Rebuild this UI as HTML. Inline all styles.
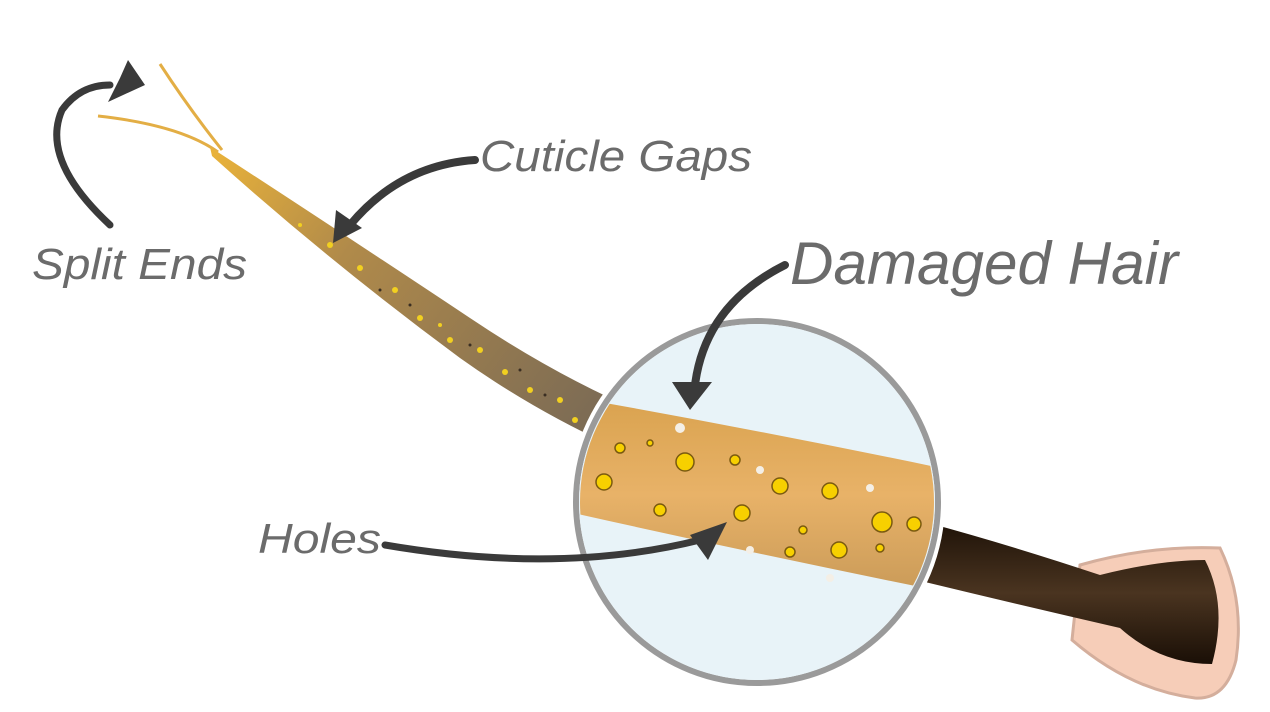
<!DOCTYPE html>
<html><head><meta charset="utf-8"><style>
html,body{margin:0;padding:0;background:#fff;width:1270px;height:712px;overflow:hidden}
text{font-family:"Liberation Sans",sans-serif;font-style:italic;fill:#6b6b6b}
</style></head><body>
<svg width="1270" height="712" viewBox="0 0 1270 712" xmlns="http://www.w3.org/2000/svg">
<defs>
<linearGradient id="strand" x1="215" y1="150" x2="600" y2="430" gradientUnits="userSpaceOnUse">
<stop offset="0" stop-color="#e9b23a"/><stop offset="0.35" stop-color="#b08a4a"/><stop offset="1" stop-color="#7a6a55"/>
</linearGradient>
<linearGradient id="band" x1="0" y1="0" x2="0" y2="1">
<stop offset="0" stop-color="#d9a24e"/><stop offset="0.5" stop-color="#e8b268"/><stop offset="1" stop-color="#c99a58"/>
</linearGradient>
<linearGradient id="dark" x1="0" y1="0" x2="0" y2="1">
<stop offset="0" stop-color="#1e1208"/><stop offset="0.5" stop-color="#4a3420"/><stop offset="1" stop-color="#1a0f06"/>
</linearGradient>
<clipPath id="cc"><circle cx="757" cy="502" r="177"/></clipPath>
</defs>

<!-- split ends -->
<path d="M218 152 Q180 125 98 116" stroke="#e3ae45" stroke-width="3" fill="none"/>
<path d="M222 150 Q190 110 160 64" stroke="#e3ae45" stroke-width="3" fill="none"/>
<!-- strand -->
<path d="M210 147 Q330 225 470 318 Q540 365 610 398 L610 445 Q530 408 460 358 Q330 262 212 156 Z" fill="url(#strand)"/>
<g fill="#f2d020">
<circle cx="330" cy="245" r="3"/><circle cx="360" cy="268" r="3"/><circle cx="395" cy="290" r="3"/><circle cx="420" cy="318" r="3"/><circle cx="450" cy="340" r="3"/><circle cx="480" cy="350" r="3"/><circle cx="505" cy="372" r="3"/><circle cx="530" cy="390" r="3"/><circle cx="560" cy="400" r="3"/><circle cx="575" cy="420" r="3"/><circle cx="300" cy="225" r="2"/><circle cx="440" cy="325" r="2"/>
</g>
<g fill="#3a2e22">
<circle cx="380" cy="290" r="1.5"/><circle cx="410" cy="305" r="1.5"/><circle cx="470" cy="345" r="1.5"/><circle cx="520" cy="370" r="1.5"/><circle cx="545" cy="395" r="1.5"/>
</g>

<!-- bulb and dark hair -->
<path d="M1080 565 Q1150 545 1220 548 Q1245 600 1236 660 Q1226 700 1195 698 Q1130 690 1072 640 Z" fill="#f6cdb8" stroke="#d4ae9c" stroke-width="3"/>
<path d="M925 522 Q1010 545 1100 575 Q1160 560 1205 560 Q1228 605 1212 664 Q1160 664 1120 628 Q1020 605 925 582 Z" fill="url(#dark)"/>

<!-- magnifier -->
<circle cx="757" cy="502" r="188" fill="#ffffff"/>
<circle cx="757" cy="502" r="181" fill="none" stroke="#9a9a9a" stroke-width="6"/>
<circle cx="757" cy="502" r="178" fill="#e8f3f8"/>
<g clip-path="url(#cc)">
<path d="M560 395 Q760 430 960 472 L960 595 Q760 555 560 510 Z" fill="url(#band)"/>
<g fill="#f7d000" stroke="#7a5a10" stroke-width="1.5">
<circle cx="604" cy="482" r="8"/><circle cx="685" cy="462" r="9"/><circle cx="735" cy="460" r="5"/><circle cx="780" cy="486" r="8"/><circle cx="830" cy="491" r="8"/><circle cx="882" cy="522" r="10"/><circle cx="914" cy="524" r="7"/><circle cx="742" cy="513" r="8"/><circle cx="839" cy="550" r="8"/><circle cx="660" cy="510" r="6"/><circle cx="790" cy="552" r="5"/><circle cx="620" cy="448" r="5"/><circle cx="803" cy="530" r="4"/><circle cx="650" cy="443" r="3"/><circle cx="880" cy="548" r="4"/>
</g>
<g fill="#f4efe6">
<circle cx="680" cy="428" r="5"/><circle cx="760" cy="470" r="4"/><circle cx="870" cy="488" r="4"/><circle cx="750" cy="550" r="4"/><circle cx="830" cy="578" r="4"/>
</g>
</g>

<!-- arrows -->
<g fill="none" stroke="#3a3a3a" stroke-linecap="round">
<path d="M110 225 Q40 160 62 110 Q80 85 110 85" stroke-width="7"/>
<path d="M475 160 Q400 165 350 225" stroke-width="8"/>
<path d="M785 265 Q705 305 695 385" stroke-width="8"/>
<path d="M385 545 Q560 575 700 540" stroke-width="7"/>
</g>
<g fill="#3a3a3a">
<polygon points="145,85 108,102 120,78 128,60"/>
<polygon points="333,243 336,210 362,228"/>
<polygon points="690,410 672,382 712,382"/>
<polygon points="727,522 708,560 690,535"/>
</g>

<!-- labels -->
<text x="480" y="171" font-size="44" textLength="272" lengthAdjust="spacingAndGlyphs">Cuticle Gaps</text>
<text x="32" y="279" font-size="44" textLength="215" lengthAdjust="spacingAndGlyphs">Split Ends</text>
<text x="790" y="284" font-size="60" textLength="388" lengthAdjust="spacingAndGlyphs">Damaged Hair</text>
<text x="258" y="553" font-size="42" textLength="123" lengthAdjust="spacingAndGlyphs">Holes</text>
</svg>
</body></html>
